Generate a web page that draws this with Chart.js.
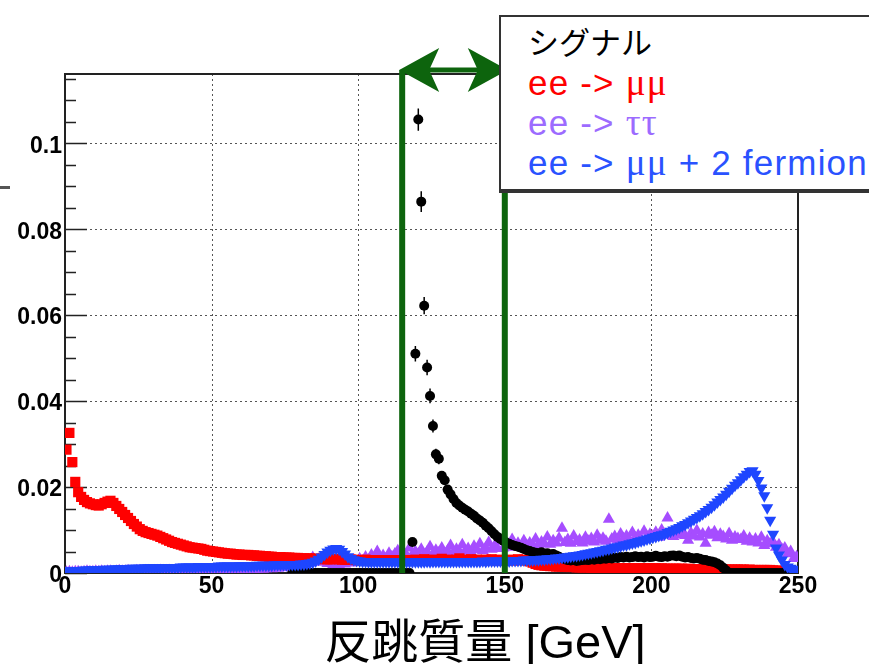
<!DOCTYPE html>
<html>
<head>
<meta charset="utf-8">
<script src="https://cdn.jsdelivr.net/npm/chart.js@4.4.1/dist/chart.umd.min.js"></script>
<style>
  html, body { margin: 0; padding: 0; background: #fff; overflow: hidden; }
  #wrap { position: relative; width: 869px; height: 664px; overflow: hidden; }
  #plot { position: absolute; left: 0; top: 0; }
  #legend {
    position: absolute; left: 499px; top: 15px; width: 480px; height: 168px;
    padding: 4px 0 0 27px; background: #fff;
    border: 2px solid #333; border-bottom-width: 4px;
  }
  #legend div {
    height: 40px; line-height: 40px; white-space: nowrap;
    font-family: "Liberation Sans", Arial, sans-serif; font-size: 35px; letter-spacing: 1.2px;
  }
  #legend div.jp { height: 42px; font-family: "Noto Sans CJK JP", sans-serif; font-size: 31px; letter-spacing: 0; }
  #legend span { font-family: "Liberation Serif", serif; font-size: 37px; }
  #xtitle {
    position: absolute; left: 285px; top: 617px; width: 400px; text-align: center;
    font-family: "Liberation Sans", "Noto Sans CJK JP", sans-serif; font-size: 47px; line-height: 50px;
  }
  #dash { position: absolute; left: 0; top: 186px; width: 10px; height: 3px; background: #555; }
</style>
</head>
<body>
<div id="wrap">
  <canvas id="plot" width="869" height="664"></canvas>
  <div id="dash"></div>
  <div id="legend">
    <div class="jp" style="color:#000">シグナル</div>
    <div style="color:#ff0000">ee -&gt; <span>μμ</span></div>
    <div style="color:#9c6bff">ee -&gt; <span>ττ</span></div>
    <div style="color:#2a52ff">ee -&gt; <span>μμ</span> + 2 fermion</div>
  </div>
  <div id="xtitle">反跳質量 [GeV]</div>
</div>
<script>
// histogram binning: 1 GeV bins from 0 to 250 GeV
const massMin = 0
const binWidth = 1

// signal, starts at bin 77 (lower bins are empty and not drawn)
const signalFirstBin = 77
const signal = [
  0, 0, 0,
  0, 0, 0, 0, 0, 0, 0, 0, 0, 0,
  0, 0, 0, 0, 0, 0, 0, 0, 0, 0,
  0, 0, 0, 0, 0, 0, 0, 0, 0, 0,
  0, 0, 0, 0, 0, 0, 0, 0, 0.0072, 0.0510,
  0.1055, 0.0864, 0.0622, 0.0478, 0.0412, 0.0342, 0.0276, 0.0266, 0.0226, 0.0216,
  0.0194, 0.0183, 0.0172, 0.0163, 0.0157, 0.0152, 0.0147, 0.0143, 0.0138, 0.0133,
  0.0127, 0.0122, 0.0117, 0.0110, 0.0104, 0.0097, 0.0090, 0.0084, 0.0079, 0.0075,
  0.0071, 0.0068, 0.0065, 0.0063, 0.0061, 0.0059, 0.0056, 0.0053, 0.0051, 0.0049,
  0.0047, 0.0046, 0.0048, 0.0045, 0.0046, 0.0043, 0.0044, 0.0041, 0.0038, 0.0035,
  0.0032, 0.0030, 0.0029, 0.0030, 0.0028, 0.0029, 0.0030, 0.0031, 0.0030, 0.0032,
  0.0031, 0.0033, 0.0032, 0.0034, 0.0033, 0.0035, 0.0034, 0.0036, 0.0035, 0.0037,
  0.0036, 0.0038, 0.0036, 0.0037, 0.0039, 0.0037, 0.0038, 0.0036, 0.0039, 0.0037,
  0.0038, 0.0040, 0.0038, 0.0037, 0.0039, 0.0038, 0.0040, 0.0041, 0.0039, 0.0041,
  0.0038, 0.0036, 0.0037, 0.0035, 0.0034, 0.0035, 0.0033, 0.0031, 0.0030, 0.0028,
  0.0027, 0.0025, 0.0022, 0.0018, 0.0012, 0.0006, 0, 0, 0, 0,
  0, 0, 0, 0, 0, 0, 0, 0, 0, 0,
  0, 0, 0, 0, 0, 0, 0, 0, 0, 0
]
// error bars of the signal peak
const sigErrBins = [118.5, 119.5, 120.5, 121.5, 122.5, 123.5, 124.5, 125.5, 126.5, 127.5]
const sigErrors = [0.0008, 0.0018, 0.0026, 0.0024, 0.0020, 0.0018, 0.0017, 0.0015, 0.0013, 0.0013]

// ee -> mumu
const eeMuMu = [
  0.0287, 0.0326, 0.0258, 0.0212, 0.0188, 0.0177, 0.0170, 0.0165, 0.0162, 0.0160,
  0.0158, 0.0157, 0.0160, 0.0163, 0.0166, 0.0168, 0.0163, 0.0156, 0.0149, 0.0142,
  0.0135, 0.0128, 0.0121, 0.0114, 0.0108, 0.0102, 0.0098, 0.0095, 0.0093, 0.0091,
  0.0089, 0.0087, 0.0084, 0.0081, 0.0078, 0.0075, 0.0072, 0.0070, 0.0068, 0.0066,
  0.0064, 0.0062, 0.0060, 0.0059, 0.0058, 0.0057, 0.0056, 0.0054, 0.0052, 0.0051,
  0.0050, 0.0049, 0.0048, 0.0047, 0.0046, 0.0045, 0.0045, 0.0044, 0.0043, 0.0043,
  0.0042, 0.0042, 0.0042, 0.0041, 0.0041, 0.0040, 0.0040, 0.0039, 0.0039, 0.0038,
  0.0038, 0.0037, 0.0037, 0.0037, 0.0036, 0.0036, 0.0036, 0.0035, 0.0035, 0.0035,
  0.0034, 0.0034, 0.0034, 0.0034, 0.0033, 0.0033, 0.0033, 0.0033, 0.0032, 0.0032,
  0.0032, 0.0032, 0.0033, 0.0032, 0.0031, 0.0031, 0.0031, 0.0031, 0.0031, 0.0030,
  0.0030, 0.0030, 0.0031, 0.0030, 0.0030, 0.0030, 0.0029, 0.0030, 0.0030, 0.0029,
  0.0029, 0.0030, 0.0029, 0.0029, 0.0030, 0.0029, 0.0029, 0.0030, 0.0029, 0.0031,
  0.0029, 0.0030, 0.0032, 0.0029, 0.0030, 0.0031, 0.0029, 0.0030, 0.0033, 0.0030,
  0.0031, 0.0030, 0.0029, 0.0031, 0.0034, 0.0030, 0.0031, 0.0030, 0.0032, 0.0030,
  0.0031, 0.0030, 0.0029, 0.0031, 0.0030, 0.0032, 0.0030, 0.0029, 0.0031, 0.0030,
  0.0030, 0.0031, 0.0029, 0.0030, 0.0032, 0.0030, 0.0031, 0.0029, 0.0027, 0.0024,
  0.0021, 0.0019, 0.0018, 0.0017, 0.0017, 0.0016, 0.0016, 0.0015, 0.0015, 0.0015,
  0.0014, 0.0014, 0.0014, 0.0014, 0.0013, 0.0013, 0.0013, 0.0013, 0.0013, 0.0012,
  0.0012, 0.0012, 0.0012, 0.0012, 0.0012, 0.0012, 0.0011, 0.0011, 0.0011, 0.0011,
  0.0011, 0.0011, 0.0011, 0.0011, 0.0011, 0.0011, 0.0011, 0.0011, 0.0011, 0.0011,
  0.0011, 0.0011, 0.0010, 0.0011, 0.0010, 0.0010, 0.0010, 0.0010, 0.0010, 0.0010,
  0.0010, 0.0009, 0.0010, 0.0009, 0.0009, 0.0009, 0.0009, 0.0009, 0.0009, 0.0009,
  0.0009, 0.0008, 0.0009, 0.0008, 0.0008, 0.0008, 0.0008, 0.0008, 0.0008, 0.0008,
  0.0008, 0.0008, 0.0007, 0.0008, 0.0007, 0.0007, 0.0007, 0.0007, 0.0007, 0.0007,
  0.0007, 0.0006, 0.0006, 0.0005, 0.0004, 0.0003, 0.0002, 0.0001, 0, 0
]

// ee -> tautau
const eeTauTau = [
  0.0002, 0.0003, 0.0002, 0.0003, 0.0003, 0.0002, 0.0003, 0.0004, 0.0003, 0.0003,
  0.0004, 0.0003, 0.0004, 0.0003, 0.0004, 0.0004, 0.0003, 0.0004, 0.0005, 0.0004,
  0.0004, 0.0005, 0.0004, 0.0004, 0.0005, 0.0005, 0.0004, 0.0005, 0.0005, 0.0004,
  0.0005, 0.0005, 0.0006, 0.0005, 0.0005, 0.0006, 0.0005, 0.0006, 0.0006, 0.0005,
  0.0006, 0.0006, 0.0005, 0.0006, 0.0007, 0.0006, 0.0006, 0.0007, 0.0006, 0.0007,
  0.0007, 0.0006, 0.0007, 0.0007, 0.0008, 0.0007, 0.0007, 0.0008, 0.0008, 0.0007,
  0.0008, 0.0008, 0.0009, 0.0008, 0.0009, 0.0009, 0.0010, 0.0009, 0.0010, 0.0011,
  0.0010, 0.0012, 0.0011, 0.0013, 0.0012, 0.0014, 0.0015, 0.0013, 0.0018, 0.0016,
  0.0022, 0.0019, 0.0030, 0.0024, 0.0036, 0.0027, 0.0032, 0.0025, 0.0030, 0.0022,
  0.0026, 0.0020, 0.0024, 0.0019, 0.0025, 0.0021, 0.0028, 0.0023, 0.0030, 0.0026,
  0.0033, 0.0028, 0.0037, 0.0030, 0.0042, 0.0033, 0.0050, 0.0036, 0.0041, 0.0034,
  0.0046, 0.0038, 0.0044, 0.0052, 0.0039, 0.0048, 0.0041, 0.0058, 0.0043, 0.0050,
  0.0045, 0.0055, 0.0042, 0.0049, 0.0061, 0.0044, 0.0053, 0.0047, 0.0058, 0.0045,
  0.0052, 0.0064, 0.0048, 0.0055, 0.0050, 0.0066, 0.0051, 0.0057, 0.0049, 0.0062,
  0.0054, 0.0068, 0.0052, 0.0059, 0.0071, 0.0055, 0.0063, 0.0057, 0.0074, 0.0058,
  0.0065, 0.0060, 0.0078, 0.0062, 0.0069, 0.0061, 0.0075, 0.0064, 0.0070, 0.0066,
  0.0079, 0.0065, 0.0072, 0.0068, 0.0084, 0.0067, 0.0075, 0.0070, 0.0081, 0.0104,
  0.0071, 0.0078, 0.0069, 0.0086, 0.0073, 0.0077, 0.0070, 0.0083, 0.0074, 0.0080,
  0.0072, 0.0088, 0.0076, 0.0081, 0.0074, 0.0125, 0.0079, 0.0085, 0.0077, 0.0091,
  0.0080, 0.0086, 0.0078, 0.0094, 0.0082, 0.0088, 0.0079, 0.0097, 0.0084, 0.0090,
  0.0086, 0.0095, 0.0083, 0.0100, 0.0088, 0.0128, 0.0091, 0.0085, 0.0098, 0.0089,
  0.0095, 0.0087, 0.0076, 0.0093, 0.0086, 0.0099, 0.0084, 0.0091, 0.0069, 0.0094,
  0.0088, 0.0096, 0.0082, 0.0090, 0.0085, 0.0079, 0.0092, 0.0076, 0.0084, 0.0080,
  0.0078, 0.0086, 0.0074, 0.0081, 0.0072, 0.0079, 0.0070, 0.0083, 0.0064, 0.0075,
  0.0068, 0.0072, 0.0060, 0.0066, 0.0055, 0.0058, 0.0045, 0.0050, 0.0034, 0.0038
]

// ee -> mumu + 2 fermion
const eeMuMu2f = [
  0.0004, 0.0005, 0.0005, 0.0006, 0.0006, 0.0006, 0.0007, 0.0007, 0.0007, 0.0008,
  0.0008, 0.0008, 0.0008, 0.0009, 0.0009, 0.0009, 0.0009, 0.0010, 0.0010, 0.0010,
  0.0010, 0.0010, 0.0011, 0.0011, 0.0011, 0.0011, 0.0011, 0.0012, 0.0012, 0.0012,
  0.0012, 0.0012, 0.0012, 0.0013, 0.0013, 0.0013, 0.0013, 0.0013, 0.0013, 0.0014,
  0.0014, 0.0014, 0.0014, 0.0014, 0.0014, 0.0015, 0.0015, 0.0015, 0.0015, 0.0015,
  0.0015, 0.0015, 0.0016, 0.0016, 0.0016, 0.0016, 0.0016, 0.0016, 0.0016, 0.0017,
  0.0017, 0.0017, 0.0017, 0.0017, 0.0017, 0.0018, 0.0018, 0.0018, 0.0018, 0.0018,
  0.0018, 0.0019, 0.0019, 0.0019, 0.0019, 0.0019, 0.0020, 0.0020, 0.0020, 0.0020,
  0.0021, 0.0021, 0.0022, 0.0023, 0.0025, 0.0028, 0.0032, 0.0037, 0.0043, 0.0049,
  0.0053, 0.0056, 0.0057, 0.0055, 0.0050, 0.0044, 0.0038, 0.0034, 0.0031, 0.0029,
  0.0028, 0.0027, 0.0027, 0.0026, 0.0026, 0.0026, 0.0026, 0.0026, 0.0026, 0.0026,
  0.0026, 0.0026, 0.0026, 0.0026, 0.0026, 0.0026, 0.0026, 0.0026, 0.0026, 0.0026,
  0.0026, 0.0026, 0.0026, 0.0027, 0.0026, 0.0027, 0.0027, 0.0027, 0.0027, 0.0027,
  0.0027, 0.0027, 0.0027, 0.0027, 0.0027, 0.0027, 0.0027, 0.0027, 0.0027, 0.0027,
  0.0027, 0.0027, 0.0028, 0.0027, 0.0028, 0.0028, 0.0028, 0.0028, 0.0028, 0.0028,
  0.0028, 0.0028, 0.0029, 0.0029, 0.0029, 0.0029, 0.0030, 0.0030, 0.0030, 0.0030,
  0.0031, 0.0031, 0.0032, 0.0032, 0.0033, 0.0033, 0.0034, 0.0035, 0.0035, 0.0036,
  0.0037, 0.0038, 0.0039, 0.0040, 0.0041, 0.0042, 0.0043, 0.0045, 0.0046, 0.0047,
  0.0049, 0.0050, 0.0052, 0.0053, 0.0055, 0.0056, 0.0058, 0.0060, 0.0061, 0.0063,
  0.0065, 0.0066, 0.0068, 0.0070, 0.0071, 0.0073, 0.0075, 0.0077, 0.0079, 0.0081,
  0.0083, 0.0085, 0.0087, 0.0089, 0.0091, 0.0094, 0.0097, 0.0100, 0.0103, 0.0106,
  0.0110, 0.0113, 0.0117, 0.0121, 0.0125, 0.0129, 0.0133, 0.0138, 0.0143, 0.0148,
  0.0153, 0.0159, 0.0165, 0.0171, 0.0177, 0.0183, 0.0190, 0.0197, 0.0204, 0.0210,
  0.0217, 0.0224, 0.0230, 0.0236, 0.0238, 0.0230, 0.0215, 0.0198, 0.0180, 0.0152,
  0.0123, 0.0090, 0.0058, 0.0042, 0.0030, 0.0020, 0.0014, 0.0011, 0.0009, 0.0008
]

// recoil mass cut window
const cutLow = 115
const cutHigh = 150
// minor ticks on the y axis
const yMinorTicks = [0.005, 0.01, 0.015, 0.025, 0.03, 0.035, 0.045, 0.05, 0.055,
  0.065, 0.07, 0.075, 0.085, 0.09, 0.095, 0.105, 0.11, 0.115]

const green = '#0d640d'

function toPoints(values, firstBin) {
  return values.map((v, i) => ({ x: massMin + (firstBin + i + 0.5) * binWidth, y: v }))
}

// dotted grid, inward ticks and frame, like a ROOT canvas
const frame = {
  id: 'frame',
  beforeDatasetsDraw(chart) {
    const { ctx, chartArea: a, scales: { x, y } } = chart
    ctx.save()
    ctx.strokeStyle = '#555'
    ctx.lineWidth = 1
    ctx.setLineDash([2, 3])
    ctx.beginPath()
    x.ticks.forEach(t => {
      if (t.value <= x.min || t.value >= x.max) return
      const px = Math.round(x.getPixelForValue(t.value)) + 0.5
      ctx.moveTo(px, a.top)
      ctx.lineTo(px, a.bottom)
    })
    y.ticks.forEach(t => {
      if (t.value <= y.min) return
      const py = Math.round(y.getPixelForValue(t.value)) + 0.5
      ctx.moveTo(a.left, py)
      ctx.lineTo(a.right, py)
    })
    ctx.stroke()
    ctx.setLineDash([])

    ctx.strokeStyle = '#222'
    ctx.lineWidth = 1.5
    ctx.beginPath()
    y.ticks.forEach(t => {
      const py = Math.round(y.getPixelForValue(t.value)) + 0.5
      ctx.moveTo(a.left, py)
      ctx.lineTo(a.left + 22, py)
    })
    yMinorTicks.forEach(v => {
      const py = Math.round(y.getPixelForValue(v)) + 0.5
      ctx.moveTo(a.left, py)
      ctx.lineTo(a.left + 11, py)
    })
    ctx.stroke()
    ctx.lineWidth = 2
    ctx.strokeRect(a.left, a.top, a.right - a.left, a.bottom - a.top)
    ctx.restore()
  }
}

const errorBars = {
  id: 'errorBars',
  afterDatasetsDraw(chart) {
    const { ctx, scales: { x, y } } = chart
    ctx.save()
    ctx.strokeStyle = '#000'
    ctx.lineWidth = 1.5
    ctx.beginPath()
    sigErrBins.forEach((m, i) => {
      const v = signal[Math.floor((m - massMin) / binWidth) - signalFirstBin]
      const px = x.getPixelForValue(m)
      ctx.moveTo(px, y.getPixelForValue(v - sigErrors[i]))
      ctx.lineTo(px, y.getPixelForValue(v + sigErrors[i]))
    })
    ctx.stroke()
    ctx.restore()
  }
}

// green cut lines with the double arrow on top
const cutLines = {
  id: 'cutLines',
  afterDatasetsDraw(chart) {
    const { ctx, chartArea: a, scales: { x } } = chart
    const xl = x.getPixelForValue(cutLow)
    const xr = x.getPixelForValue(cutHigh)
    const ya = a.top - 4
    ctx.save()
    ctx.strokeStyle = green
    ctx.fillStyle = green
    ctx.lineWidth = 6
    ctx.beginPath()
    ctx.moveTo(xl, a.bottom)
    ctx.lineTo(xl, ya)
    ctx.moveTo(xr, a.bottom)
    ctx.lineTo(xr, ya)
    ctx.stroke()
    ctx.lineWidth = 5
    ctx.beginPath()
    ctx.moveTo(xl + 20, ya)
    ctx.lineTo(xr - 20, ya)
    ctx.stroke()
    const head = (tip, dir) => {
      ctx.beginPath()
      ctx.moveTo(tip, ya)
      ctx.lineTo(tip + 40 * dir, ya - 22)
      ctx.lineTo(tip + 30 * dir, ya)
      ctx.lineTo(tip + 40 * dir, ya + 22)
      ctx.closePath()
      ctx.fill()
    }
    head(xl - 3, 1)
    head(xr + 3, -1)
    ctx.restore()
  }
}

const tickFont = { family: '"Liberation Sans", Arial, sans-serif', size: 23, weight: 'bold' }

new Chart(document.getElementById('plot'), {
  type: 'scatter',
  data: {
    datasets: [
      {
        label: 'ee -> μμ + 2 fermion',
        data: toPoints(eeMuMu2f, 0),
        order: 1,
        pointStyle: 'triangle',
        pointRotation: 180,
        pointRadius: 7,
        pointBorderWidth: 0,
        pointBackgroundColor: '#1e46ff'
      },
      {
        label: 'シグナル',
        data: toPoints(signal, signalFirstBin),
        order: 2,
        pointStyle: 'circle',
        pointRadius: 5,
        pointBorderWidth: 0,
        pointBackgroundColor: '#000'
      },
      {
        label: 'ee -> μμ',
        data: toPoints(eeMuMu, 0),
        order: 3,
        pointStyle: 'rect',
        pointRadius: 7.2,
        pointBorderWidth: 0,
        pointBackgroundColor: '#ff0000'
      },
      {
        label: 'ee -> ττ',
        data: toPoints(eeTauTau, 0),
        order: 4,
        pointStyle: 'triangle',
        pointRadius: 7,
        pointBorderWidth: 0,
        pointBackgroundColor: '#a64dff'
      }
    ]
  },
  options: {
    responsive: false,
    animation: false,
    events: [],
    layout: { padding: { top: 74, right: 71, left: 0, bottom: 0 } },
    plugins: { legend: { display: false }, tooltip: { enabled: false } },
    scales: {
      x: {
        type: 'linear',
        min: 0,
        max: 250,
        afterFit: s => { s.height = 91 },
        grid: { display: false, drawTicks: false },
        border: { display: false },
        ticks: { stepSize: 50, padding: 0, maxRotation: 0, color: '#000', font: tickFont }
      },
      y: {
        min: 0,
        max: 0.1161,
        afterFit: s => { s.width = 65 },
        grid: { display: false, drawTicks: false },
        border: { display: false },
        ticks: {
          stepSize: 0.02,
          includeBounds: false,
          padding: 3,
          labelOffset: 3,
          color: '#000',
          font: tickFont,
          callback: v => v === 0 ? '0' : String(+v.toFixed(2))
        }
      }
    }
  },
  plugins: [frame, errorBars, cutLines]
})
</script>
</body>
</html>
